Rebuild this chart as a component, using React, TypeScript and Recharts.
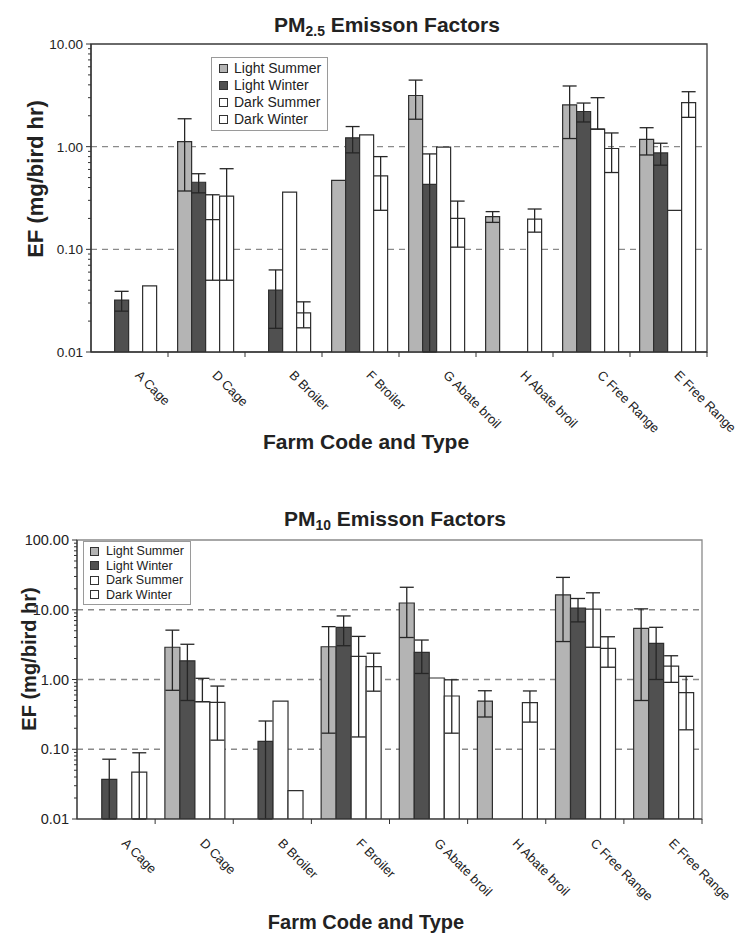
import React from 'react';
import {
  BarChart,
  Bar,
  XAxis,
  YAxis,
  CartesianGrid,
  ErrorBar,
  Legend,
  ReferenceArea,
} from 'recharts';

// ---------- data ----------
const farms = [
  'A Cage',
  'D Cage',
  'B Broiler',
  'F Broiler',
  'G Abate broil',
  'H Abate broil',
  'C Free Range',
  'E Free Range',
];
const seriesKeys = ['ls', 'lw', 'ds', 'dw'];
const seriesNames = ['Light Summer', 'Light Winter', 'Dark Summer', 'Dark Winter'];
const seriesFills = ['#b4b4b4', '#505050', '#ffffff', '#ffffff'];

// PM2.5 emission factors, mg/bird hr (null = not measured)
const pm25LightSummer = [null, 1.12, null, 0.47, 3.15, 0.208, 2.55, 1.18];
const pm25LightWinter = [0.032, 0.45, 0.04, 1.22, 0.43, null, 2.2, 0.87];
const pm25DarkSummer = [null, 0.195, 0.36, 1.3, 0.99, null, 1.48, 0.24];
const pm25DarkWinter = [0.044, 0.33, 0.024, 0.52, 0.2, 0.197, 0.96, 2.68];
// standard deviations
const pm25LightSummerSd = [null, 0.75, null, null, 1.3, 0.025, 1.35, 0.35];
const pm25LightWinterSd = [0.007, 0.095, 0.023, 0.35, 0.42, null, 0.46, 0.21];
const pm25DarkSummerSd = [null, 0.145, null, null, null, null, 1.52, null];
const pm25DarkWinterSd = [null, 0.28, 0.0068, 0.28, 0.095, 0.05, 0.4, 0.75];

// PM10 emission factors, mg/bird hr
const pm10LightSummer = [null, 2.9, null, 2.95, 12.5, 0.49, 16.3, 5.4];
const pm10LightWinter = [0.037, 1.85, 0.13, 5.6, 2.45, null, 10.6, 3.3];
const pm10DarkSummer = [null, 0.48, 0.49, 2.15, 1.05, null, 10.2, 1.55];
const pm10DarkWinter = [0.047, 0.47, 0.0255, 1.53, 0.58, 0.465, 2.8, 0.65];
const pm10LightSummerSd = [null, 2.2, null, 2.78, 8.5, 0.2, 12.8, 4.9];
const pm10LightWinterSd = [0.035, 1.35, 0.124, 2.55, 1.23, null, 3.9, 2.3];
const pm10DarkSummerSd = [null, 0.56, null, 2.0, null, null, 7.3, 0.64];
const pm10DarkWinterSd = [0.042, 0.335, null, 0.85, 0.41, 0.22, 1.3, 0.46];

// decade tick labels of the log axes
const pm25Decades = [0.01, 0.1, 1, 10];
const pm10Decades = [0.01, 0.1, 1, 10, 100];

// ---------- helpers ----------
type Row = Record<string, any>;

function buildRows(values: (number | null)[][], sds: (number | null)[][]): Row[] {
  return farms.map((farm, i) => {
    const row: Row = { farm };
    seriesKeys.forEach((k, j) => {
      row[k] = values[j][i];
      row[k + 'Sd'] = sds[j][i];
    });
    return row;
  });
}

// log axis: a lower whisker below zero is not drawn, one below the axis floor stops at it
const whisker = (key: string, floor: number) => (row: Row) => {
  const v = row[key];
  const e = row[key + 'Sd'];
  if (v == null || e == null) return undefined;
  const down = v - e <= 0 ? 0 : Math.min(e, v - floor);
  return [down, e];
};

const logTicks = (decades: number[]) =>
  decades.flatMap((d, i) =>
    i === decades.length - 1
      ? [d]
      : [1, 2, 3, 4, 5, 6, 7, 8, 9].map((m) => Number((d * m).toPrecision(3)))
  );

const isDecade = (v: number) => {
  const lg = Math.log10(v);
  return Math.abs(lg - Math.round(lg)) < 1e-6;
};

const FONT = '"Liberation Sans", Arial, Helvetica, sans-serif';
const INK = '#222';
const W = 739;
const Y_AXIS_W = 60;
const X_AXIS_H = 90;

const makeYTick = (fontSize: number) => (props: any) => {
  const { x, y, payload } = props;
  const major = isDecade(payload.value);
  return (
    <g>
      <line x1={x - (major ? 5 : 3)} x2={x} y1={y} y2={y} stroke="#333" strokeWidth={1} />
      {major && (
        <text
          x={x - 8}
          y={y}
          dy="0.36em"
          textAnchor="end"
          fontSize={fontSize}
          fontFamily={FONT}
          fill={INK}
        >
          {payload.value.toFixed(2)}
        </text>
      )}
    </g>
  );
};

const makeXTick = (band: number, fontSize: number, dy: number) => (props: any) => {
  const { x, y, payload } = props;
  return (
    <g>
      <line x1={x + band / 2} x2={x + band / 2} y1={y} y2={y + 5} stroke="#333" strokeWidth={1} />
      <text
        transform={`translate(${x + 5}, ${y + dy}) rotate(45)`}
        fontSize={fontSize}
        fontFamily={FONT}
        fill={INK}
      >
        {payload.value}
      </text>
    </g>
  );
};

type LegendBox = { fontSize: number; rowH: number; pad: string; gap: number };

const makeLegend = (box: LegendBox) => (props: any) => {
  const items = [...((props.payload || []) as any[])].sort(
    (a, b) => seriesNames.indexOf(a.value) - seriesNames.indexOf(b.value)
  );
  return (
    <div
      style={{
        border: '1px solid #9a9a9a',
        background: '#fff',
        padding: box.pad,
        fontFamily: FONT,
        fontSize: box.fontSize,
        lineHeight: box.rowH + 'px',
        color: INK,
        whiteSpace: 'nowrap',
      }}
    >
      {items.map((p) => (
        <div key={p.value} style={{ display: 'flex', alignItems: 'center', height: box.rowH }}>
          <span
            style={{
              display: 'inline-block',
              width: 7,
              height: 7,
              border: '1px solid #333',
              background: p.color,
              marginRight: box.gap,
            }}
          />
          {p.value}
        </div>
      ))}
    </div>
  );
};

const gridAt = (values: number[]) => (props: any) => {
  const s = props?.yAxis?.scale;
  if (!s) return [];
  const f = typeof s === 'function' ? s : s.map ? (v: number) => s.map(v) : null;
  if (!f) return [];
  return values.map((v) => f(v));
};

type PanelProps = {
  rows: Row[];
  decades: number[];
  height: number;
  margin: { top: number; right: number; left: number; bottom: number };
  tickFont: number;
  labelFont: number;
  labelDy: number;
  legendBox: LegendBox;
  legendPos: { left: number; top: number };
  frameColor: string;
};

function EmissionPanel(p: PanelProps) {
  const plotW = W - p.margin.left - p.margin.right - Y_AXIS_W;
  const band = plotW / farms.length;
  const lo = p.decades[0];
  const hi = p.decades[p.decades.length - 1];
  return (
    <BarChart
      width={W}
      height={p.height}
      data={p.rows}
      margin={p.margin}
      barCategoryGap="12.5%"
      barGap={0}
    >
      <CartesianGrid
        vertical={false}
        stroke="#8a8a8a"
        strokeWidth={1.3}
        strokeDasharray="6 5"
        horizontalCoordinatesGenerator={gridAt(p.decades.slice(1, -1))}
      />
      <XAxis
        dataKey="farm"
        height={X_AXIS_H}
        interval={0}
        tickSize={0}
        tickMargin={0}
        tickLine={false}
        axisLine={{ stroke: '#333', strokeWidth: 1.2 }}
        tick={makeXTick(band, p.labelFont, p.labelDy)}
      />
      <YAxis
        scale="log"
        type="number"
        domain={[lo, hi]}
        allowDataOverflow
        ticks={logTicks(p.decades)}
        interval={0}
        width={Y_AXIS_W}
        tickSize={0}
        tickMargin={0}
        tickLine={false}
        axisLine={{ stroke: '#333', strokeWidth: 1.2 }}
        tick={makeYTick(p.tickFont)}
      />
      <ReferenceArea
        y1={lo}
        y2={hi}
        fill="none"
        stroke={p.frameColor}
        strokeWidth={1.3}
        ifOverflow="visible"
      />
      <Legend
        layout="vertical"
        align="center"
        verticalAlign="middle"
        content={makeLegend(p.legendBox)}
        wrapperStyle={{ left: p.legendPos.left, top: p.legendPos.top, width: 'auto', height: 'auto' }}
      />
      {seriesKeys.map((k, j) => (
        <Bar
          key={k}
          dataKey={k}
          name={seriesNames[j]}
          fill={seriesFills[j]}
          stroke="#2e2e2e"
          strokeWidth={1.2}
          isAnimationActive={false}
        >
          <ErrorBar
            dataKey={whisker(k, lo)}
            direction="y"
            width={7}
            stroke="#262626"
            strokeWidth={1.3}
          />
        </Bar>
      ))}
    </BarChart>
  );
}

const pm25Rows = buildRows(
  [pm25LightSummer, pm25LightWinter, pm25DarkSummer, pm25DarkWinter],
  [pm25LightSummerSd, pm25LightWinterSd, pm25DarkSummerSd, pm25DarkWinterSd]
);
const pm10Rows = buildRows(
  [pm10LightSummer, pm10LightWinter, pm10DarkSummer, pm10DarkWinter],
  [pm10LightSummerSd, pm10LightWinterSd, pm10DarkSummerSd, pm10DarkWinterSd]
);

const abs = (style: React.CSSProperties): React.CSSProperties => ({
  position: 'absolute',
  fontFamily: FONT,
  fontWeight: 'bold',
  color: INK,
  whiteSpace: 'nowrap',
  lineHeight: 1,
  ...style,
});

const sub: React.CSSProperties = { fontSize: '0.66em', position: 'relative', top: '0.3em' };

export default function App() {
  return (
    <div style={{ position: 'relative', width: W, height: 937, background: '#fff' }}>
      <style>{'body{margin:0;background:#fff}'}</style>

      {/* PM2.5 panel */}
      <div style={{ position: 'absolute', left: 0, top: 0 }}>
        <EmissionPanel
          rows={pm25Rows}
          decades={pm25Decades}
          height={470}
          margin={{ top: 44, right: 32, left: 31, bottom: 28 }}
          tickFont={13.5}
          labelFont={13}
          labelDy={24}
          legendBox={{ fontSize: 14, rowH: 17, pad: '2px 6px 2px 7px', gap: 6 }}
          legendPos={{ left: 211, top: 57 }}
          frameColor="#3a3a3a"
        />
      </div>
      <div style={abs({ left: 387, top: 14, fontSize: 21, transform: 'translateX(-50%)' })}>
        PM<span style={sub}>2.5</span> Emisson Factors
      </div>
      <div
        style={abs({
          left: 36,
          top: 179,
          fontSize: 22,
          transform: 'translate(-50%, -50%) rotate(-90deg)',
        })}
      >
        EF (mg/bird hr)
      </div>
      <div style={abs({ left: 366, top: 431, fontSize: 21, transform: 'translateX(-50%)' })}>
        Farm Code and Type
      </div>

      {/* PM10 panel */}
      <div style={{ position: 'absolute', left: 0, top: 470 }}>
        <EmissionPanel
          rows={pm10Rows}
          decades={pm10Decades}
          height={467}
          margin={{ top: 70, right: 37, left: 17, bottom: 28 }}
          tickFont={14.5}
          labelFont={13}
          labelDy={25}
          legendBox={{ fontSize: 12.5, rowH: 14.5, pad: '2px 6px 2px 6px', gap: 7 }}
          legendPos={{ left: 83, top: 71 }}
          frameColor="#8a8a8a"
        />
      </div>
      <div style={abs({ left: 395, top: 508, fontSize: 21, transform: 'translateX(-50%)' })}>
        PM<span style={sub}>10</span> Emisson Factors
      </div>
      <div
        style={abs({
          left: 29,
          top: 659,
          fontSize: 20,
          transform: 'translate(-50%, -50%) rotate(-90deg)',
        })}
      >
        EF (mg/bird hr)
      </div>
      <div style={abs({ left: 366, top: 912, fontSize: 20, transform: 'translateX(-50%)' })}>
        Farm Code and Type
      </div>
    </div>
  );
}
